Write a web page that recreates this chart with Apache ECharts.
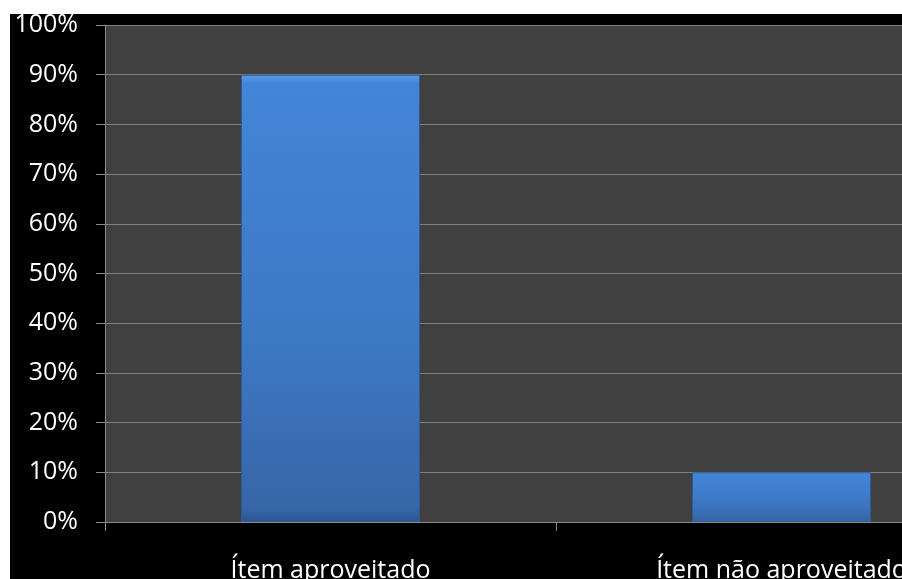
<!DOCTYPE html>
<html>
<head>
<meta charset="utf-8">
<script src="https://cdn.jsdelivr.net/npm/echarts@6/dist/echarts.min.js"></script>
<style>
  html, body { margin: 0; padding: 0; background: #fff; }
  #chart { position: absolute; left: 10px; top: 14px; width: 892px; height: 565px; }
</style>
</head>
<body>
<div id="chart"></div>
<script>
const categories = ["Ítem aproveitado", "Ítem não aproveitado"];
const shares = [0.9, 0.1];

const chart = echarts.init(document.getElementById("chart"));

const labelFont = { color: "#ffffff", fontFamily: "Open Sans", fontSize: 25 };

chart.setOption({
  backgroundColor: "#000000",
  animation: false,
  grid: {
    left: 95, top: 11, width: 902, height: 497,
    outerBoundsMode: "none",
    containLabel: false,
    show: true, backgroundColor: "#404040", borderWidth: 0
  },
  xAxis: {
    type: "category",
    data: categories,
    axisLine: { lineStyle: { color: "#8a8a8a", width: 1 } },
    axisTick: { show: true, length: 9, lineStyle: { color: "#8a8a8a" } },
    axisLabel: { ...labelFont, margin: 36 }
  },
  yAxis: {
    type: "value",
    min: 0, max: 1, interval: 0.1,
    axisLine: { show: true, lineStyle: { color: "#8a8a8a", width: 1 } },
    axisTick: { show: true, length: 9, lineStyle: { color: "#8a8a8a" } },
    splitLine: { lineStyle: { color: "#7f7f7f", width: 1 } },
    axisLabel: {
      ...labelFont,
      margin: 27,
      formatter: (v) => Math.round(v * 100) + "%"
    }
  },
  series: [
    {
      type: "bar",
      data: shares,
      barWidth: 179,
      itemStyle: {
        color: new echarts.graphic.LinearGradient(0, 0, 0, 1, [
          { offset: 0, color: "#5a9ae8" },
          { offset: 0.02, color: "#4385d8" },
          { offset: 0.6, color: "#3d78c4" },
          { offset: 0.97, color: "#3766a8" },
          { offset: 1, color: "#2c5590" }
        ]),
        borderColor: "#2f5b94",
        borderWidth: 1
      }
    }
  ]
});
</script>
</body>
</html>
